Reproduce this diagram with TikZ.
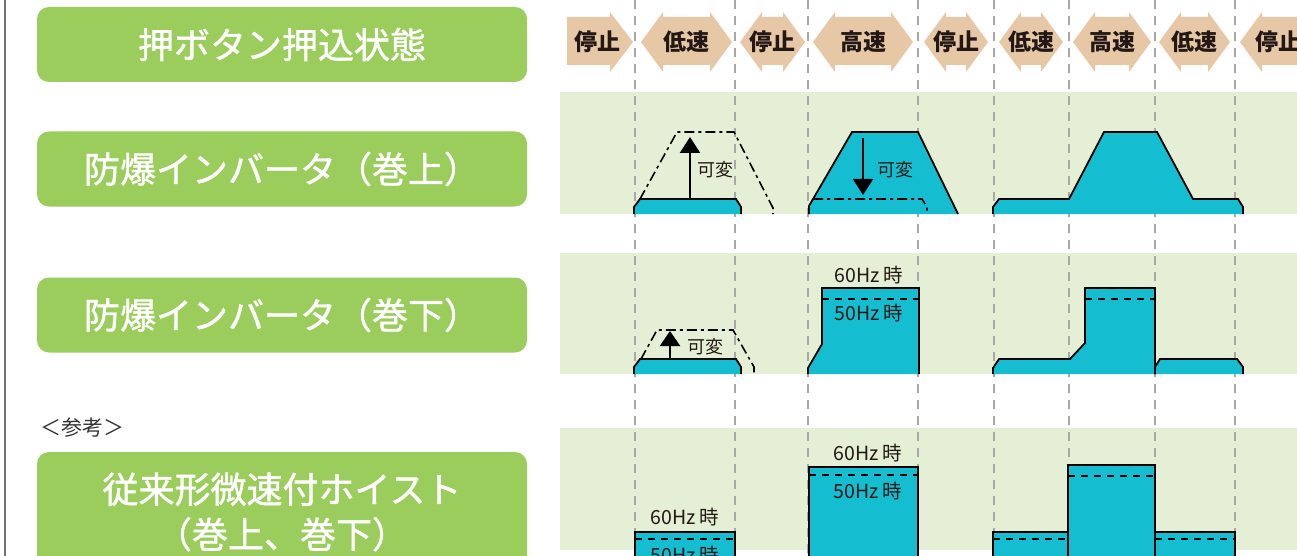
\documentclass[tikz,border=0pt]{standalone}
\usepackage{fontspec}
\setmainfont{Noto Sans CJK JP}
\newfontfamily\titlefont[FakeBold=1.2]{Noto Sans CJK JP}
\usepackage{xcolor}
\usepackage{tikz}
\usetikzlibrary{arrows.meta}
\definecolor{HoistGreen}{HTML}{9ACD5B}
\definecolor{HoistBand}{HTML}{E4EFD5}
\definecolor{HoistCyan}{HTML}{14BED0}
\definecolor{HoistBeige}{HTML}{E7C8A6}
\definecolor{HoistGrid}{HTML}{A8A8A8}
\definecolor{HoistInk}{HTML}{231815}
\tikzset{
  hoist title/.style={
    fill=HoistGreen, rounded corners=12pt, minimum width=490pt,
    minimum height=75pt, text=white, inner sep=0pt, align=center,
    font=\titlefont\fontsize{36}{45}\selectfont
  },
  hoist speed/.style={font=\bfseries\fontsize{23}{23}\selectfont, text=HoistInk},
  hoist note/.style={font=\fontsize{18}{18}\selectfont, text=HoistInk},
  hoist hz/.style={font=\fontsize{19.5}{19.5}\selectfont, text=HoistInk},
  grid line/.style={HoistGrid, line width=2pt, dash pattern=on 9pt off 7pt},
  wave/.style={fill=HoistCyan, draw=black, line width=1.8pt, line join=miter},
  low limit/.style={black, line width=1.6pt, dash pattern=on 10pt off 4pt on 3pt off 4pt},
  hz line/.style={black, line width=1.6pt, dash pattern=on 7pt off 6pt},
  var arr/.style={-{Triangle[width=20pt,length=16pt]}, line width=2.2pt, black}
}

\begin{document}
\begin{tikzpicture}[x=1pt, y=-1pt]
  \useasboundingbox (0,0) rectangle (1297,556);
  \clip (0,0) rectangle (1297,556);

  % left column
  \draw[line width=1.5pt, black!55] (5,0) -- (5,556);
  \node[hoist title] (lblState) at (282,44.5) {押ボタン押込状態};
  \node[hoist title] (lblUp) at (282,169) {防爆インバータ（巻上）};
  \node[hoist title] (lblDown) at (282,315) {防爆インバータ（巻下）};
  \node[font=\fontsize{21}{21}\selectfont, text=black!80] (lblRef) at (82,428) {＜参考＞};
  \node[hoist title, minimum height=120pt] (lblOld) at (282,512)
    {従来形微速付ホイスト\\（巻上、巻下）};

  % bands
  \fill[HoistBand] (560,92) rectangle (1297,214);
  \fill[HoistBand] (560,253) rectangle (1297,374);
  \fill[HoistBand] (560,428) rectangle (1297,550);

  \foreach \gx in {635,735,808,918,994,1069,1155,1235}
    \draw[grid line] (\gx,0) -- (\gx,556);

  % push button states
  \fill[HoistBeige] (567,17) -- (610,17) -- (610,12) -- (633,42) -- (610,72)
    -- (610,65) -- (567,65) -- cycle;
  \node[hoist speed] (spd0) at (597,42) {停止};
  \foreach \xa/\xb/\lbl [count=\i] in {641/732/低速, 740/805/停止, 813/913/高速,
      924/988/停止, 999/1063/低速, 1073/1151/高速, 1159/1230/低速} {
    \fill[HoistBeige] (\xa,42) -- ({\xa+22},12) -- ({\xa+22},17) -- ({\xb-22},17)
      -- ({\xb-22},12) -- (\xb,42) -- ({\xb-22},72) -- ({\xb-22},65)
      -- ({\xa+22},65) -- ({\xa+22},72) -- cycle;
    \node[hoist speed] (spd\i) at ({(\xa+\xb)/2},42) {\lbl};
  }
  \fill[HoistBeige] (1240,42) -- (1262,12) -- (1262,17) -- (1300,17) -- (1300,65)
    -- (1262,65) -- (1262,72) -- cycle;
  \node[hoist speed] (spd8) at (1278,42) {停止};

  % hoisting
  \draw[wave] (634,214) -- (634,207) -- (640,199) -- (736,199) -- (741,207) -- (741,214);
  \draw[low limit] (640,199) -- (677,132) -- (734,132) -- (773,208) -- (773,214);
  \coordinate (upA0) at (690,199);
  \coordinate (upA1) at (690,137);
  \draw[var arr] (upA0) -- (upA1);
  \node[hoist note] (varA) at (715,170) {可変};

  \draw[wave] (809,214) -- (809,206) -- (852,132) -- (918,132) -- (958,214);
  \draw[low limit] (813,199) -- (922,199) -- (927,207) -- (927,214);
  \coordinate (dnB0) at (863,138);
  \coordinate (dnB1) at (863,195);
  \draw[var arr] (dnB0) -- (dnB1);
  \node[hoist note] (varB) at (895,170) {可変};

  \draw[wave] (993,214) -- (993,207) -- (999,199) -- (1069,199) -- (1104,132)
    -- (1157,132) -- (1193,199) -- (1238,199) -- (1243,207) -- (1243,214);

  % lowering
  \draw[wave] (634,374) -- (634,367) -- (640,359) -- (736,359) -- (741,367) -- (741,374);
  \draw[low limit] (641,359) -- (657,330) -- (733,330) -- (754,367) -- (754,374);
  \coordinate (upD0) at (670,359);
  \coordinate (upD1) at (670,331);
  \draw[var arr, -{Triangle[width=20pt,length=15pt]}] (upD0) -- (upD1);
  \node[hoist note] (varD) at (705,347) {可変};

  \draw[wave] (808,374) -- (808,368) -- (822,344) -- (822,288) -- (919,288) -- (919,374);
  \draw[hz line] (822,299) -- (919,299);
  \node[hoist hz] (hzE6) at (869,275) {60Hz 時};
  \node[hoist hz] (hzE5) at (869,313) {50Hz 時};

  \draw[wave] (993,374) -- (993,368) -- (999,359) -- (1070,359) -- (1085,343)
    -- (1085,288) -- (1155,288) -- (1155,374);
  \draw[hz line] (1085,299) -- (1155,299);
  \draw[wave] (1155,374) -- (1155,367) -- (1160,359) -- (1237,359) -- (1243,367) -- (1243,374);

  % conventional hoist
  \draw[wave] (635,560) -- (635,532) -- (735,532) -- (735,560);
  \draw[hz line] (635,539) -- (735,539);
  \node[hoist hz] (hzH6) at (685,517) {60Hz 時};
  \node[hoist hz] (hzH5) at (685,555) {50Hz 時};

  \draw[wave] (809,560) -- (809,467) -- (918,467) -- (918,560);
  \draw[hz line] (809,475) -- (918,475);
  \node[hoist hz] (hzI6) at (868,453) {60Hz 時};
  \node[hoist hz] (hzI5) at (868,491) {50Hz 時};

  \draw[wave] (993,560) -- (993,532) -- (1068,532) -- (1068,560);
  \draw[hz line] (993,539) -- (1068,539);
  \draw[wave] (1068,560) -- (1068,465) -- (1155,465) -- (1155,560);
  \draw[hz line] (1068,476) -- (1155,476);
  \draw[wave] (1155,560) -- (1155,532) -- (1235,532) -- (1235,560);
  \draw[hz line] (1155,539) -- (1235,539);
\end{tikzpicture}
\end{document}
